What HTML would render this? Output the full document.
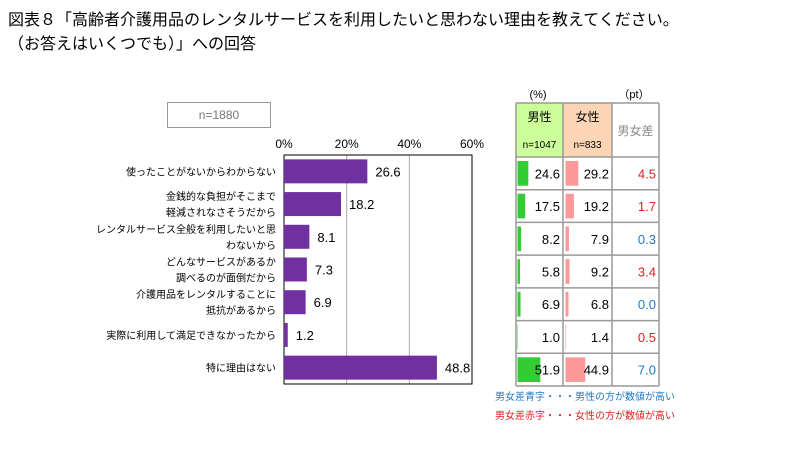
<!DOCTYPE html>
<html><head><meta charset="utf-8"><style>
body{margin:0;background:#fff;font-family:"Liberation Sans","Noto Sans CJK JP",sans-serif;}
#w{position:relative;width:810px;height:454px;overflow:hidden;}
.t{position:absolute;white-space:nowrap;}
</style></head><body><div id="w">
<div class="t" style="left:8px;top:9px;font-size:16px;line-height:24px;color:#000">図表８「高齢者介護用品のレンタルサービスを利用したいと思わない理由を教えてください。<br>（お答えはいくつでも）」への回答</div>
<div class="t" style="left:167px;top:102px;width:104px;height:26px;border:1px solid #999;box-sizing:border-box;font-size:12px;color:#777;text-align:center;line-height:24px">n=1880</div>
<svg id="chartSvg" width="810" height="454" style="position:absolute;left:0;top:0"></svg>
</div>
<script>
const categories=["使ったことがないからわからない","金銭的な負担がそこまで\n軽減されなさそうだから","レンタルサービス全般を利用したいと思\nわないから","どんなサービスがあるか\n調べるのが面倒だから","介護用品をレンタルすることに\n抵抗があるから","実際に利用して満足できなかったから","特に理由はない"];
const totalValues=[26.6,18.2,8.1,7.3,6.9,1.2,48.8];
const maleValues=[24.6,17.5,8.2,5.8,6.9,1.0,51.9];
const femaleValues=[29.2,19.2,7.9,9.2,6.8,1.4,44.9];
const diffValues=[4.5,1.7,0.3,3.4,0.0,0.5,7.0];
const diffColors=["r","r","b","r","b","r","b"];
const tickLabels=["0%","20%","40%","60%"];
const tickValues=[0,20,40,60];
const svgEl=document.getElementById('chartSvg');const NS="http://www.w3.org/2000/svg";
function el(tag,at,txt){const e=document.createElementNS(NS,tag);for(const k in at)e.setAttribute(k,at[k]);if(txt!==undefined)e.textContent=txt;svgEl.appendChild(e);return e;}
const plotX0=284,plotX1=472,plotTop=155,plotBot=384,nRows=categories.length,rh=(plotBot-plotTop)/nRows;
const xs=v=>plotX0+v/60*(plotX1-plotX0);
tickValues.forEach((v,i)=>{
 if(i>0&&i<tickValues.length-1){const g=el('line',{x1:xs(v),x2:xs(v),y1:plotTop,y2:plotBot,stroke:'#aaa'});}
 const t=el('text',{x:xs(v),y:148,'font-size':12,'text-anchor':'middle',fill:'#000'},tickLabels[i]);
 
});
const fr=el('rect',{x:plotX0,y:plotTop,width:plotX1-plotX0,height:plotBot-plotTop,fill:'none',stroke:'#000'});

categories.forEach((c,i)=>{
 const cy=plotTop+rh*(i+0.5);
 const b=el('rect',{x:plotX0,y:cy-12,width:xs(totalValues[i])-plotX0,height:24,fill:'#7030a0'});
 
 const v=el('text',{x:xs(totalValues[i])+8,y:cy+5,'font-size':13,fill:'#000'},totalValues[i].toFixed(1));
 
 const lines=c.split('\n');
 lines.forEach((l,j)=>{const t=el('text',{x:276,y:cy+4+(j-(lines.length-1)/2)*16,'font-size':10,'text-anchor':'end',fill:'#000'},l);
 });
});
const TL=516,C1=563,C2=612,TR=659,TT=103,HB=157,TB=386,trh=(TB-HB)/nRows,sc=0.44;
let r=el('rect',{x:TL,y:TT,width:C1-TL,height:HB-TT,fill:'#ccff99'});
r=el('rect',{x:C1,y:TT,width:C2-C1,height:HB-TT,fill:'#fcd5b4'});
[[TL+23.5,121,'男性',12,'#000'],[TL+23.5,148,'n=1047',10,'#000'],[C1+24.5,121,'女性',12,'#000'],[C1+24.5,148,'n=833',10,'#000'],[C2+23.5,135,'男女差',12,'#888'],[538,98,'(%)',11,'#000'],[634,98,'（pt）',11,'#000']].forEach(a=>{
 const t=el('text',{x:a[0],y:a[1],'font-size':a[3],'text-anchor':'middle',fill:a[4]},a[2]);});
for(let i=0;i<nRows;i++){
 const y=HB+trh*i,cy=y+trh/2;
 r=el('rect',{x:TL+1.5,y:y+4,width:maleValues[i]*sc,height:trh-8,fill:'#33cc33'});
 r=el('rect',{x:C1+2.5,y:y+4,width:femaleValues[i]*sc,height:trh-8,fill:'#ff9999'});
 let t=el('text',{x:C1-3,y:cy+5,'font-size':13,'text-anchor':'end',fill:'#000'},maleValues[i].toFixed(1));
 t=el('text',{x:C2-3,y:cy+5,'font-size':13,'text-anchor':'end',fill:'#000'},femaleValues[i].toFixed(1));
 t=el('text',{x:TR-3,y:cy+5,'font-size':13,'text-anchor':'end',fill:diffColors[i]=='r'?'#e02020':'#1f78c8'},diffValues[i].toFixed(1));
}
const gc='#999';
[TT,HB].concat([...Array(nRows).keys()].map(i=>HB+trh*(i+1))).forEach(y=>{const l=el('line',{x1:TL,x2:TR,y1:y,y2:y,stroke:gc,'stroke-width':1.5});});
[TL,C1,C2,TR].forEach(x=>{const l=el('line',{x1:x,x2:x,y1:TT,y2:TB,stroke:gc,'stroke-width':1.5});});
let nt=el('text',{x:495,y:400,'font-size':10,fill:'#1f78c8'},'男女差青字・・・男性の方が数値が高い');
nt=el('text',{x:495,y:419,'font-size':10,fill:'#e02020'},'男女差赤字・・・女性の方が数値が高い');
</script></body></html>
